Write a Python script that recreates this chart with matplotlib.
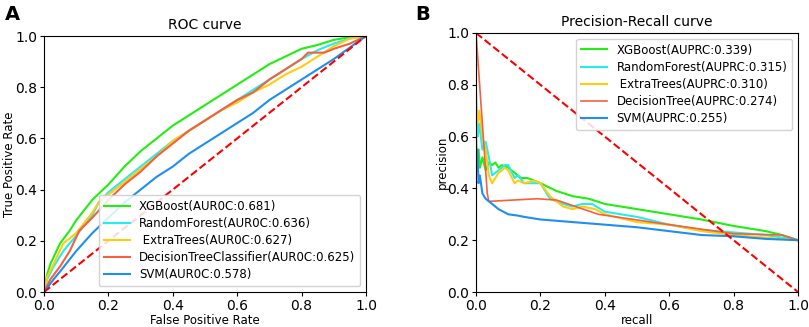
import matplotlib
matplotlib.use("Agg")
import matplotlib.pyplot as plt

# ---------------- ROC data ----------------
roc_labels = ["XGBoost(AUR0C:0.681)", "RandomForest(AUR0C:0.636)", " ExtraTrees(AUR0C:0.627)",
              "DecisionTreeClassifier(AUR0C:0.625)", "SVM(AUR0C:0.578)"]
roc_xgb_fpr = [0, 0.01, 0.02, 0.05, 0.08, 0.1, 0.15, 0.2, 0.25, 0.3, 0.35, 0.4, 0.45, 0.5, 0.55,
               0.6, 0.65, 0.7, 0.75, 0.8, 0.85, 0.9, 0.95, 1.0]
roc_xgb_tpr = [0, 0.07, 0.11, 0.19, 0.24, 0.28, 0.36, 0.42, 0.49, 0.55, 0.60, 0.65, 0.69, 0.73, 0.77,
               0.81, 0.85, 0.89, 0.92, 0.95, 0.965, 0.985, 0.995, 1.0]
roc_rf_fpr = [0, 0.01, 0.03, 0.06, 0.1, 0.15, 0.17, 0.2, 0.25, 0.3, 0.35, 0.4, 0.45, 0.5, 0.55,
              0.6, 0.65, 0.7, 0.75, 0.8, 0.85, 0.9, 0.95, 1.0]
roc_rf_tpr = [0, 0.05, 0.1, 0.16, 0.22, 0.3, 0.35, 0.39, 0.44, 0.49, 0.54, 0.59, 0.63, 0.67, 0.71,
              0.75, 0.79, 0.83, 0.87, 0.91, 0.945, 0.97, 0.99, 1.0]
roc_et_fpr = [0, 0.01, 0.03, 0.06, 0.1, 0.15, 0.18, 0.2, 0.25, 0.3, 0.35, 0.4, 0.45, 0.5, 0.55,
              0.6, 0.65, 0.7, 0.75, 0.8, 0.85, 0.9, 0.95, 1.0]
roc_et_tpr = [0, 0.06, 0.11, 0.19, 0.23, 0.31, 0.37, 0.38, 0.43, 0.48, 0.53, 0.59, 0.63, 0.67, 0.71,
              0.74, 0.78, 0.81, 0.85, 0.88, 0.92, 0.96, 0.99, 1.0]
roc_dt_fpr = [0, 0.02, 0.05, 0.08, 0.11, 0.15, 0.2, 0.25, 0.3, 0.35, 0.4, 0.45, 0.5, 0.55, 0.6,
              0.65, 0.7, 0.75, 0.8, 0.82, 0.87, 0.9, 0.95, 1.0]
roc_dt_tpr = [0, 0.05, 0.1, 0.16, 0.24, 0.29, 0.36, 0.42, 0.47, 0.53, 0.58, 0.63, 0.67, 0.71, 0.75,
              0.78, 0.83, 0.87, 0.91, 0.935, 0.935, 0.95, 0.97, 1.0]
roc_svm_fpr = [0, 0.03, 0.05, 0.1, 0.15, 0.2, 0.25, 0.3, 0.35, 0.4, 0.45, 0.5, 0.55, 0.6, 0.65,
               0.7, 0.75, 0.8, 0.85, 0.9, 0.95, 1.0]
roc_svm_tpr = [0, 0.05, 0.08, 0.16, 0.23, 0.29, 0.35, 0.40, 0.45, 0.49, 0.54, 0.58, 0.62, 0.66, 0.70,
               0.75, 0.79, 0.83, 0.87, 0.91, 0.955, 1.0]

# ---------------- PR data ----------------
pr_labels = ["XGBoost(AUPRC:0.339)", "RandomForest(AUPRC:0.315)", " ExtraTrees(AUPRC:0.310)",
             "DecisionTree(AUPRC:0.274)", "SVM(AUPRC:0.255)"]
pr_xgb_rec = [0.0, 0.003, 0.008, 0.012, 0.02, 0.03, 0.04, 0.05, 0.06, 0.07, 0.08, 0.1, 0.12, 0.14,
              0.16, 0.2, 0.25, 0.3, 0.35, 0.4, 0.5, 0.6, 0.7, 0.8, 0.9, 0.95, 1.0]
pr_xgb_pre = [0.62, 0.5, 0.55, 0.48, 0.52, 0.47, 0.5, 0.49, 0.5, 0.48, 0.49, 0.48, 0.46, 0.44,
              0.44, 0.42, 0.39, 0.37, 0.36, 0.34, 0.32, 0.30, 0.28, 0.255, 0.235, 0.22, 0.2]
pr_rf_rec = [0.0, 0.005, 0.01, 0.02, 0.03, 0.04, 0.05, 0.07, 0.09, 0.1, 0.12, 0.13, 0.15, 0.18,
             0.2, 0.23, 0.27, 0.3, 0.33, 0.36, 0.4, 0.5, 0.6, 0.7, 0.8, 0.9, 1.0]
pr_rf_pre = [0.78, 0.6, 0.65, 0.55, 0.58, 0.52, 0.45, 0.47, 0.49, 0.49, 0.44, 0.45, 0.42, 0.42,
             0.42, 0.36, 0.34, 0.33, 0.34, 0.34, 0.31, 0.29, 0.26, 0.24, 0.23, 0.22, 0.2]
pr_et_rec = [0.0, 0.005, 0.01, 0.02, 0.03, 0.04, 0.05, 0.07, 0.09, 0.1, 0.12, 0.13, 0.15, 0.18,
             0.2, 0.23, 0.27, 0.3, 0.33, 0.37, 0.4, 0.5, 0.6, 0.7, 0.8, 0.9, 1.0]
pr_et_pre = [0.72, 0.65, 0.7, 0.6, 0.55, 0.45, 0.42, 0.46, 0.48, 0.47, 0.42, 0.43, 0.42, 0.43,
             0.42, 0.37, 0.33, 0.32, 0.33, 0.32, 0.3, 0.27, 0.26, 0.235, 0.22, 0.21, 0.2]
pr_dt_rec = [0.0, 0.035, 0.04, 0.19, 0.25, 0.38, 0.6, 0.8, 0.95, 1.0]
pr_dt_pre = [1.0, 0.38, 0.35, 0.36, 0.355, 0.30, 0.26, 0.225, 0.22, 0.2]
pr_svm_rec = [0.0, 0.0, 0.004, 0.008, 0.012, 0.02, 0.03, 0.05, 0.07, 0.1, 0.13, 0.15, 0.2, 0.25,
              0.3, 0.4, 0.5, 0.6, 0.7, 0.8, 0.9, 1.0]
pr_svm_pre = [0.0, 0.5, 0.55, 0.42, 0.45, 0.38, 0.36, 0.34, 0.32, 0.30, 0.295, 0.29, 0.28, 0.275,
              0.27, 0.26, 0.25, 0.235, 0.22, 0.215, 0.205, 0.2]

colors = ["#22ee11", "#22eeee", "#ffcc11", "#f56040", "#1e8ff0"]

fig = plt.figure(figsize=(8.09, 3.27), dpi=100)
fs = 9

ax1 = fig.add_axes([44 / 809, 1 - 292 / 327, 322 / 809, 256 / 327])
roc = [(roc_xgb_fpr, roc_xgb_tpr), (roc_rf_fpr, roc_rf_tpr), (roc_et_fpr, roc_et_tpr),
       (roc_dt_fpr, roc_dt_tpr), (roc_svm_fpr, roc_svm_tpr)]
for (x, y), c, lab in zip(roc, colors, roc_labels):
    ax1.plot(x, y, color=c, lw=1.5, label=lab)
ax1.plot([0, 1], [0, 1], "r--", lw=1.5)
ax1.set_xlim(0, 1)
ax1.set_ylim(0, 1)
ax1.set_title("ROC curve", fontsize=fs + 1, pad=5)
ax1.set_xlabel("False Positive Rate", fontsize=fs - 0.5, labelpad=1)
ax1.set_ylabel("True Positive Rate", fontsize=fs - 0.5, labelpad=-1)
ax1.tick_params(labelsize=10, length=3, pad=2)
ax1.legend(loc="lower right", fontsize=fs - 0.5, handlelength=2.2, borderpad=0.4,
           labelspacing=0.35, framealpha=0.85)

ax2 = fig.add_axes([476 / 809, 1 - 292 / 327, 322 / 809, 259 / 327])
pr = [(pr_xgb_rec, pr_xgb_pre), (pr_rf_rec, pr_rf_pre), (pr_et_rec, pr_et_pre),
      (pr_dt_rec, pr_dt_pre), (pr_svm_rec, pr_svm_pre)]
for (x, y), c, lab in zip(pr, colors, pr_labels):
    ax2.plot(x, y, color=c, lw=1.5 if lab[:2] != "De" else 1.2, label=lab)
ax2.plot([0, 1], [1, 0], "r--", lw=1.5)
ax2.set_xlim(0, 1)
ax2.set_ylim(0, 1)
ax2.set_title("Precision-Recall curve", fontsize=fs + 1, pad=5)
ax2.set_xlabel("recall", fontsize=fs - 0.5, labelpad=1)
ax2.set_ylabel("precision", fontsize=fs - 0.5, labelpad=-1)
ax2.tick_params(labelsize=10, length=3, pad=2)
ax2.legend(loc="upper right", fontsize=fs - 0.5, handlelength=2.2, borderpad=0.4,
           labelspacing=0.35, framealpha=0.85)

fig.text(5 / 809, 1 - 14 / 327, "A", fontsize=14, fontweight="bold", va="center")
fig.text(415 / 809, 1 - 14 / 327, "B", fontsize=14, fontweight="bold", va="center")

fig.savefig("out.png", dpi=100)
